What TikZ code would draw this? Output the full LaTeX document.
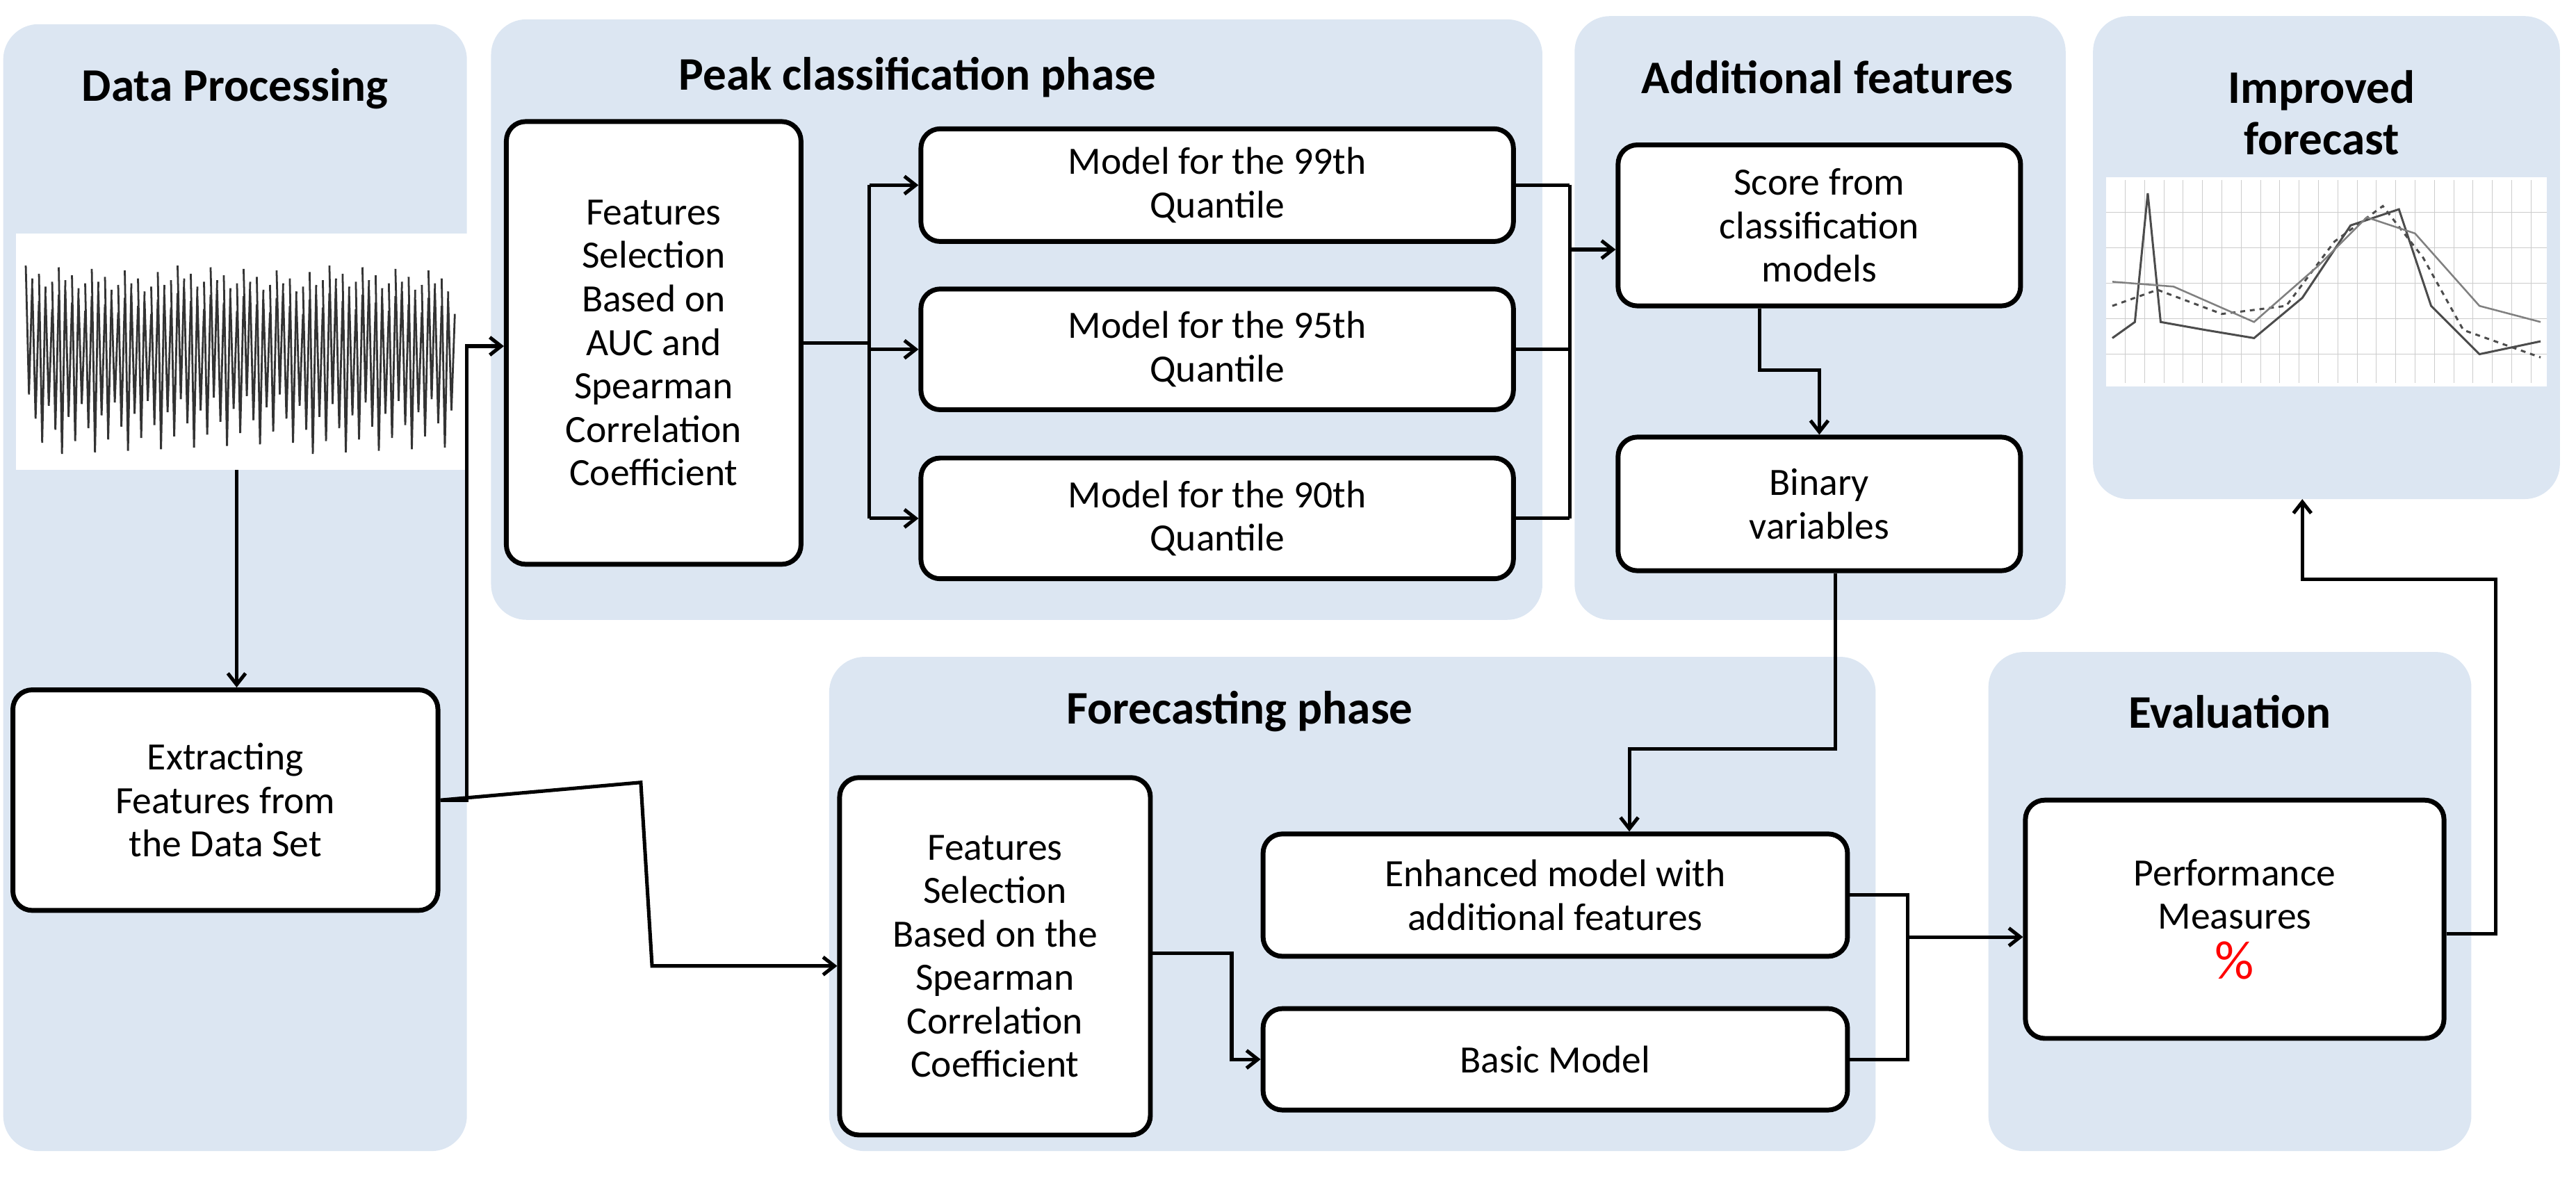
\documentclass[tikz,border=0pt]{standalone}
\usepackage{fontspec}
\setmainfont{Carlito}
\usetikzlibrary{arrows.meta}
\definecolor{panelblue}{RGB}{220,230,242}
\begin{document}
\begin{tikzpicture}[x=1pt,y=-1pt,
  panel/.style={fill=panelblue,draw=none,rounded corners=22pt},
  ttl/.style={font=\fontsize{29}{32}\selectfont\bfseries,align=center},
  box/.style={draw=black,line width=3pt,rounded corners=12pt,fill=white,align=center,
    font=\fontsize{24}{27}\selectfont,inner sep=1pt},
  link/.style={line width=2.2pt,-{Straight Barb[length=7pt,width=11pt]}},
  wire/.style={line width=2.2pt}]
\useasboundingbox (0,0) rectangle (1600,740);
% panels
\fill[panel] (2,15) rectangle (290,715);
\fill[panel] (305,12) rectangle (958,385);
\fill[panel] (978,10) rectangle (1283,385);
\fill[panel] (1300,10) rectangle (1590,310);
\fill[panel] (515,408) rectangle (1165,715);
\fill[panel] (1235,405) rectangle (1535,715);
\node[ttl] (tdp) at (146,55) {Data Processing};
\node[ttl] (tpk) at (570,48) {Peak classification phase};
\node[ttl] (taf) at (1135,48) {Additional features};
\node[ttl] (tif) at (1442,70) {Improved\\forecast};
\node[ttl] (tfc) at (770,442) {Forecasting phase};
\node[ttl] (tev) at (1385,442) {Evaluation};
% signal picture
\fill[white] (10,145) rectangle (290,292);
\coordinate (sig) at (147,292);
\foreach \i in {0,...,64}{
  \pgfmathsetmacro{\xx}{16+\i*4.1}
  \pgfmathsetmacro{\hi}{165+mod(\i*37,23)}
  \pgfmathsetmacro{\lo}{245+mod(\i*53,38)}
  \draw[black!80,line width=1.2pt] (\xx,\hi) -- (\xx+2,\lo) -- (\xx+4.1,\hi+8);
}
% chart picture
\fill[white] (1308,110) rectangle (1582,240);
\foreach \g in {1,...,22} \draw[gray!40,line width=0.4pt] (1308+\g*12,112) -- (1308+\g*12,238);
\foreach \g in {1,...,5} \draw[gray!40,line width=0.4pt] (1308,110+\g*22) -- (1582,110+\g*22);
\draw[black!70,line width=1.3pt] (1312,210) -- (1326,200) -- (1334,120) -- (1342,200) -- (1370,205) -- (1400,210) -- (1430,185) -- (1460,140) -- (1490,130) -- (1510,190) -- (1540,220) -- (1578,212);
\draw[black!70,line width=1.3pt,dashed] (1312,190) -- (1340,180) -- (1380,195) -- (1420,190) -- (1450,150) -- (1480,128) -- (1505,160) -- (1530,205) -- (1578,222);
\draw[gray,line width=1.1pt] (1312,175) -- (1350,178) -- (1400,200) -- (1440,165) -- (1470,135) -- (1500,145) -- (1540,190) -- (1578,200);
\coordinate (cht) at (1430,310);
% boxes
\node[box,minimum width=264pt,minimum height=137pt] (ext) at (140,497) {Extracting\\Features from\\the Data Set};
\node[box,minimum width=183pt,minimum height=275pt] (fs1) at (406,213) {Features\\Selection\\Based on\\AUC and\\Spearman\\Correlation\\Coefficient};
\node[box,minimum width=368pt,minimum height=70pt] (m99) at (756,115) {Model for the 99th\\Quantile};
\node[box,minimum width=368pt,minimum height=75pt] (m95) at (756,217) {Model for the 95th\\Quantile};
\node[box,minimum width=368pt,minimum height=75pt] (m90) at (756,322) {Model for the 90th\\Quantile};
\node[box,minimum width=250pt,minimum height=100pt] (scr) at (1130,140) {Score from\\classification\\models};
\node[box,minimum width=250pt,minimum height=83pt] (bin) at (1130,313) {Binary\\variables};
\node[box,minimum width=193pt,minimum height=222pt] (fs2) at (618,594) {Features\\Selection\\Based on the\\Spearman\\Correlation\\Coefficient};
\node[box,minimum width=363pt,minimum height=76pt] (enh) at (966,556) {Enhanced model with\\additional features};
\node[box,minimum width=363pt,minimum height=63pt] (bas) at (966,658) {Basic Model};
\node[box,minimum width=260pt,minimum height=148pt] (prf) at (1388,571) {Performance\\Measures\\[4pt]{\color{red}\fontsize{34}{34}\selectfont\%}};
% connectors
\draw[link] (sig) -- (sig|-ext.north);
\draw[link] (ext.east) -| (290,215) -- (fs1.west|-0,215);
\draw[link] (ext.east) -- (398,486) -- (405,600) -- (fs2.west|-0,600);
\draw[wire] (fs1.east) -- (540,213);
\draw[wire] (540,115) -- (540,322);
\foreach \m in {m99,m95,m90} \draw[link] (540,0|-\m.west) -- (\m.west);
\foreach \m in {m99,m95,m90} \draw[wire] (\m.east) -- (975,0|-\m.east);
\draw[wire] (975,115) -- (975,322);
\draw[link] (975,155) -- (scr.west|-0,155);
\draw[link] (1093,0|-scr.south) -- (1093,230) -| (bin.north);
\draw[link] (1140,0|-bin.south) -- (1140,465) -| (1012,0|-enh.north);
\draw[link] (fs2.east|-0,592) -- (765,592) |- (bas.west);
\draw[wire] (enh.east) -| (1185,582);
\draw[wire] (bas.east) -| (1185,582);
\draw[link] (1185,582) -- (prf.west|-0,582);
\draw[link] (prf.east|-0,580) -- (1550,580) |- (1430,360) -- (cht);
\end{tikzpicture}
\end{document}
